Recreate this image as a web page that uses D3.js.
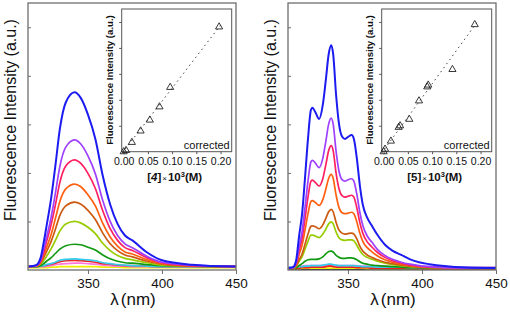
<!DOCTYPE html>
<html><head><meta charset="utf-8">
<script src="https://cdn.jsdelivr.net/npm/d3@7/dist/d3.min.js"></script>
<style>
html,body{margin:0;padding:0;background:#fff;}
svg{display:block;font-family:Arial,"Liberation Sans",sans-serif;}
</style></head><body>
<svg id="chart" width="510" height="314"></svg>
<script>
// ---------- DATA ----------
const seriesColors = ["#1c1cf0","#a040ff","#ff2060","#ff6010","#cc5a10","#99cc00","#119911","#33ccee","#ee2222","#ff77dd","#eeee00","#111111"];
const xTicks = [350, 400, 450];
const yTicks = [1, 2, 3, 4, 5];
const insetXTicks = [0, 0.05, 0.10, 0.15, 0.20];
const insetYTicks = [1, 2, 3, 4, 5];

// Panel A (compound 4)
const wlA = [310,315,318,320,322,325,328,331,335,341,345,350,355,360,365,370,375,380,390,400,420,450];
const blueA    = [0.07,0.10,0.25,0.55,0.90,1.45,2.15,2.90,3.45,3.66,3.55,3.20,2.70,1.94,1.35,0.95,0.71,0.61,0.36,0.20,0.11,0.07];
const purpleA  = [0.07,0.09,0.20,0.42,0.67,1.07,1.58,2.13,2.53,2.68,2.60,2.35,1.98,1.43,1.00,0.71,0.54,0.46,0.28,0.16,0.10,0.07];
const crimsonA = [0.07,0.09,0.18,0.36,0.58,0.92,1.34,1.80,2.14,2.27,2.20,1.99,1.68,1.22,0.85,0.61,0.46,0.40,0.25,0.15,0.09,0.07];
const orangeA  = [0.07,0.08,0.16,0.30,0.46,0.72,1.06,1.41,1.67,1.77,1.72,1.55,1.32,0.96,0.68,0.49,0.37,0.33,0.21,0.13,0.09,0.07];
const brownA   = [0.07,0.08,0.14,0.25,0.38,0.58,0.84,1.12,1.32,1.40,1.36,1.23,1.04,0.76,0.54,0.40,0.31,0.27,0.18,0.12,0.08,0.07];
const ygreenA  = [0.07,0.08,0.12,0.19,0.28,0.43,0.61,0.80,0.95,1.00,0.97,0.88,0.75,0.55,0.40,0.30,0.24,0.21,0.15,0.10,0.08,0.07];
const greenA   = [0.07,0.07,0.09,0.13,0.18,0.25,0.34,0.43,0.50,0.53,0.52,0.47,0.41,0.31,0.23,0.18,0.15,0.14,0.11,0.09,0.08,0.07];
const cyanA    = [0.06,0.07,0.08,0.09,0.11,0.13,0.16,0.20,0.22,0.23,0.22,0.21,0.19,0.15,0.13,0.11,0.10,0.09,0.08,0.07,0.07,0.07];
const redA     = [0.07,0.07,0.08,0.09,0.10,0.12,0.14,0.17,0.19,0.20,0.19,0.18,0.16,0.13,0.12,0.10,0.09,0.09,0.08,0.07,0.07,0.07];
const pinkA    = [0.06,0.06,0.07,0.07,0.08,0.09,0.11,0.12,0.13,0.14,0.14,0.13,0.12,0.10,0.09,0.08,0.08,0.07,0.07,0.07,0.07,0.06];
const yellowA  = [0.05,0.05,0.05,0.05,0.05,0.06,0.06,0.07,0.07,0.07,0.07,0.07,0.07,0.06,0.06,0.06,0.05,0.05,0.05,0.05,0.05,0.05];

// Panel B (compound 5)
const wlB = [310,313,315,317,319,321,323,325,326,328,330.5,333,335,337,338.7,340,342,344,346,348,350,352.5,354,356,358,360,363,366,370,375,380,386,392,398,405,415,430,450];
const blueB    = [0.04,0.06,0.20,0.70,1.15,1.90,2.70,3.30,3.34,3.25,3.11,3.40,3.90,4.45,4.63,4.45,3.60,3.00,2.75,2.70,2.74,2.78,2.70,2.30,1.75,1.35,1.08,0.92,0.72,0.52,0.40,0.31,0.22,0.16,0.12,0.08,0.05,0.04];
const purpleB  = [0.04,0.05,0.15,0.48,0.79,1.29,1.83,2.23,2.26,2.20,2.11,2.30,2.64,3.01,3.13,3.01,2.44,2.03,1.86,1.83,1.86,1.88,1.83,1.56,1.19,0.92,0.70,0.58,0.42,0.30,0.22,0.16,0.12,0.09,0.07,0.05,0.04,0.04];
const crimsonB = [0.04,0.05,0.13,0.40,0.65,1.06,1.50,1.83,1.85,1.80,1.73,1.88,2.16,2.46,2.56,2.46,1.99,1.67,1.53,1.50,1.52,1.54,1.50,1.28,0.98,0.76,0.58,0.48,0.36,0.26,0.19,0.14,0.10,0.08,0.06,0.05,0.04,0.04];
const orangeB  = [0.04,0.05,0.11,0.32,0.51,0.82,1.16,1.41,1.43,1.39,1.33,1.45,1.66,1.89,1.97,1.89,1.54,1.28,1.18,1.16,1.17,1.19,1.16,0.99,0.76,0.59,0.46,0.38,0.29,0.21,0.16,0.12,0.09,0.07,0.06,0.05,0.04,0.04];
const brownB   = [0.04,0.05,0.08,0.21,0.33,0.53,0.74,0.90,0.91,0.89,0.85,0.93,1.06,1.20,1.25,1.20,0.98,0.82,0.76,0.74,0.75,0.76,0.74,0.64,0.49,0.39,0.31,0.26,0.21,0.16,0.13,0.10,0.08,0.06,0.05,0.05,0.04,0.04];
const ygreenB  = [0.04,0.04,0.07,0.18,0.27,0.43,0.59,0.72,0.72,0.70,0.67,0.74,0.84,0.95,0.99,0.95,0.78,0.66,0.62,0.61,0.62,0.62,0.60,0.51,0.40,0.32,0.26,0.22,0.18,0.14,0.11,0.09,0.07,0.06,0.05,0.05,0.04,0.04];
const greenB   = [0.03,0.04,0.05,0.09,0.13,0.18,0.21,0.22,0.22,0.22,0.23,0.27,0.33,0.38,0.39,0.37,0.30,0.26,0.24,0.24,0.25,0.25,0.24,0.21,0.17,0.14,0.12,0.10,0.09,0.08,0.07,0.06,0.05,0.05,0.04,0.04,0.04,0.04];
const cyanB    = [0.06,0.06,0.06,0.07,0.07,0.08,0.08,0.09,0.09,0.09,0.09,0.10,0.11,0.12,0.12,0.11,0.10,0.09,0.09,0.09,0.09,0.09,0.09,0.08,0.08,0.07,0.07,0.07,0.06,0.06,0.06,0.06,0.05,0.05,0.05,0.05,0.05,0.05];
const redB     = [0.03,0.03,0.04,0.04,0.05,0.05,0.05,0.06,0.06,0.06,0.06,0.06,0.07,0.08,0.08,0.07,0.06,0.06,0.06,0.06,0.06,0.06,0.06,0.05,0.05,0.05,0.05,0.04,0.04,0.04,0.04,0.04,0.04,0.03,0.03,0.03,0.03,0.03];
const pinkB    = [0.05,0.06,0.07,0.08,0.08,0.09,0.09,0.09,0.09,0.09,0.09,0.09,0.10,0.10,0.10,0.10,0.09,0.09,0.09,0.09,0.09,0.09,0.09,0.09,0.08,0.08,0.08,0.08,0.08,0.08,0.07,0.07,0.07,0.07,0.07,0.06,0.06,0.06];
const yellowB  = [0.03,0.03,0.03,0.03,0.04,0.04,0.04,0.04,0.04,0.04,0.04,0.04,0.04,0.04,0.04,0.04,0.04,0.04,0.04,0.04,0.04,0.04,0.04,0.04,0.04,0.04,0.03,0.03,0.03,0.03,0.03,0.03,0.03,0.03,0.03,0.03,0.03,0.03];
const blackB   = [0.01,0.01,0.01,0.01,0.01,0.01,0.01,0.01,0.01,0.01,0.01,0.01,0.01,0.01,0.01,0.01,0.01,0.01,0.01,0.01,0.01,0.01,0.01,0.01,0.01,0.01,0.01,0.01,0.01,0.01,0.01,0.01,0.01,0.01,0.01,0.01,0.01,0.01];

// Insets: concentration (x 10^3 M) vs corrected intensity
const concA = [0, 0.005, 0.017, 0.035, 0.054, 0.074, 0.096, 0.197];
const intA  = [0, 0.05, 0.36, 0.80, 1.22, 1.73, 2.48, 4.81];
const fitXA = [-0.003, 0.203];
const fitYA = [-0.05, 4.95];
const concB = [0, 0.003, 0.015, 0.031, 0.034, 0.053, 0.073, 0.090, 0.092, 0.142, 0.188];
const intB  = [0, 0.10, 0.41, 0.94, 1.00, 1.25, 1.96, 2.50, 2.57, 3.17, 4.90];
const fitXB = [-0.004, 0.192];
const fitYB = [-0.05, 4.97];

// ---------- DRAW ----------
const svg = d3.select("#chart");

function drawPanel(p) {
  const g = svg.append("g");
  const x = d3.scaleLinear().domain([309.5, 450]).range([p.left, p.left + 208]);
  const y = d3.scaleLinear().domain([0, 5.5]).range([270, 3]);

  const clipId = "clip" + p.id;
  svg.append("clipPath").attr("id", clipId).append("rect")
    .attr("x", p.left).attr("y", 3).attr("width", 208).attr("height", 267);

  const line = d3.line().x(d => x(d[0])).y(d => y(d[1])).curve(d3.curveMonotoneX);
  const lines = g.append("g").attr("clip-path", `url(#${clipId})`);
  // draw weakest first so strongest (blue) is on top
  for (let i = p.series.length - 1; i >= 0; i--) {
    const vals = p.series[i];
    const pts = p.wl.map((w, j) => [w, vals[j]]);
    lines.append("path").attr("d", line(pts)).attr("fill", "none")
      .attr("stroke", seriesColors[i]).attr("stroke-width", i === 0 ? 2 : 1.7)
      .attr("stroke-linejoin", "round");
  }

  // frame
  g.append("rect").attr("x", p.left).attr("y", 3).attr("width", 208).attr("height", 267)
    .attr("fill", "none").attr("stroke", "#6e6e6e").attr("stroke-width", 1.3);

  // axes
  const xAxis = d3.axisBottom(x).tickValues(xTicks).tickSize(4).tickPadding(4).tickFormat(d3.format("d"));
  const xa = g.append("g").attr("transform", "translate(0,270)").call(xAxis);
  xa.select(".domain").remove();
  xa.selectAll("line").attr("stroke", "#6e6e6e");
  xa.selectAll("text").attr("font-size", 13.5).attr("fill", "#111").attr("font-family", "Arial, Liberation Sans");

  const yAxis = d3.axisLeft(y).tickValues(yTicks).tickSize(-3).tickFormat("");
  const ya = g.append("g").attr("transform", `translate(${p.left},0)`).call(yAxis);
  ya.select(".domain").remove();
  ya.selectAll("line").attr("stroke", "#6e6e6e");

  // titles
  g.append("text").attr("transform", `translate(${p.left - 12},${120}) rotate(-90)`)
    .attr("text-anchor", "middle").attr("font-size", 16).attr("fill", "#111")
    .text("Fluorescence Intensity (a.u.)");
  const xl = g.append("text").attr("x", p.left + 105).attr("y", 305)
    .attr("text-anchor", "middle").attr("font-size", 17).attr("fill", "#111");
  xl.append("tspan").text("λ");
  xl.append("tspan").attr("dx", 2).text("(nm)");

  // ---------- inset ----------
  const ix = d3.scaleLinear().domain([-0.004, 0.223]).range([p.insetLeft, p.insetLeft + 110]);
  const iy = d3.scaleLinear().domain([0, 5.5]).range([151.7, 9]);
  const ig = g.append("g");
  ig.append("rect").attr("x", p.insetLeft).attr("y", 9).attr("width", 110).attr("height", 142.7)
    .attr("fill", "#fff").attr("stroke", "#555").attr("stroke-width", 1);

  const ixa = ig.append("g").attr("transform", "translate(0,151.7)")
    .call(d3.axisBottom(ix).tickValues(insetXTicks).tickSize(2.5).tickPadding(3).tickFormat(d3.format(".2f")));
  ixa.select(".domain").remove();
  ixa.selectAll("line").attr("stroke", "#555");
  ixa.selectAll("text").attr("font-size", 10.5).attr("fill", "#111").attr("font-family", "Arial, Liberation Sans");

  const iya = ig.append("g").attr("transform", `translate(${p.insetLeft},0)`)
    .call(d3.axisLeft(iy).tickValues(insetYTicks).tickSize(2.5).tickFormat(""));
  iya.select(".domain").remove();
  iya.selectAll("line").attr("stroke", "#555");

  // fit line
  const fitPts = p.fitX.map((v, i) => [v, p.fitY[i]]);
  ig.append("path").attr("d", d3.line().x(d => ix(d[0])).y(d => iy(d[1]))(fitPts))
    .attr("fill", "none").attr("stroke", "#444").attr("stroke-width", 1)
    .attr("stroke-dasharray", "1.5,3.5");

  // triangles
  const tri = d3.symbol().type(d3.symbolTriangle).size(22);
  ig.selectAll("path.pt").data(p.conc.map((c, i) => [c, p.inten[i]])).join("path")
    .attr("class", "pt").attr("d", tri)
    .attr("transform", d => `translate(${ix(d[0])},${iy(d[1])})`)
    .attr("fill", "none").attr("stroke", "#222").attr("stroke-width", 0.9);

  ig.append("text").attr("x", p.insetLeft + 108).attr("y", 149)
    .attr("text-anchor", "end").attr("font-size", 11).attr("fill", "#111").text("corrected");

  ig.append("text").attr("transform", `translate(${p.insetLeft - 9},${80}) rotate(-90)`)
    .attr("text-anchor", "middle").attr("font-size", 9.6).attr("font-weight", "bold").attr("fill", "#111")
    .text("Fluorescence Intensity (a.u.)");

  const lab = ig.append("text").attr("x", p.insetLeft + 53).attr("y", 181)
    .attr("text-anchor", "middle").attr("font-size", 11.5).attr("font-weight", "bold").attr("fill", "#111");
  lab.append("tspan").text("[");
  lab.append("tspan").attr("font-style", p.italic ? "italic" : "normal").text(p.cmpd);
  lab.append("tspan").text("]");
  lab.append("tspan").attr("font-weight", "normal").attr("font-size", 8).attr("dx", 1).text("×");
  lab.append("tspan").attr("dx", 1).text("10");
  lab.append("tspan").attr("font-size", 7.5).attr("dy", -4).text("3");
  lab.append("tspan").attr("dy", 4).text("(M)");
}

drawPanel({id: "A", left: 28, insetLeft: 121.7, wl: wlA,
  series: [blueA, purpleA, crimsonA, orangeA, brownA, ygreenA, greenA, cyanA, redA, pinkA, yellowA],
  conc: concA, inten: intA, fitX: fitXA, fitY: fitYA, cmpd: "4", italic: true});
drawPanel({id: "B", left: 288, insetLeft: 381.7, wl: wlB,
  series: [blueB, purpleB, crimsonB, orangeB, brownB, ygreenB, greenB, cyanB, redB, pinkB, yellowB, blackB],
  conc: concB, inten: intB, fitX: fitXB, fitY: fitYB, cmpd: "5", italic: false});
</script>
</body></html>
